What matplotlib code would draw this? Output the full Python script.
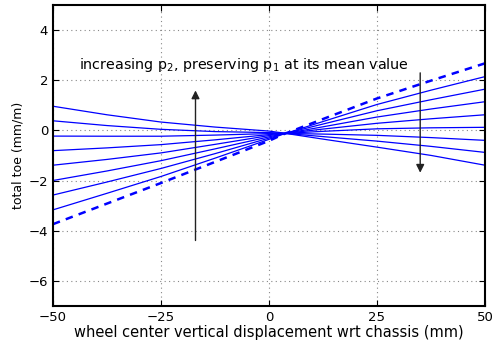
import numpy as np
import matplotlib
matplotlib.use("Agg")
import matplotlib.pyplot as plt

plt.rcParams['font.family'] = ['DejaVu Sans']
plt.rcParams['mathtext.default'] = 'regular'

# displacement samples (mm)
x = np.array([-50, -37.5, -25, -12.5, 0, 3, 12.5, 25, 37.5, 50])

# total toe (mm/m) per curve; last one is the dashed one
toe = np.array([
    [0.96, 0.62, 0.33, 0.13, -0.03, -0.10, -0.35, -0.67, -1.00, -1.39],
    [0.38, 0.19, 0.04, -0.05, -0.09, -0.11, -0.25, -0.43, -0.64, -0.88],
    [-0.23, -0.235, -0.235, -0.19, -0.13, -0.12, -0.15, -0.20, -0.29, -0.40],
    [-0.81, -0.70, -0.57, -0.38, -0.17, -0.13, -0.04, 0.06, 0.10, 0.12],
    [-1.39, -1.16, -0.90, -0.56, -0.21, -0.14, 0.05, 0.28, 0.46, 0.62],
    [-2.00, -1.62, -1.21, -0.74, -0.26, -0.15, 0.14, 0.53, 0.85, 1.14],
    [-2.58, -2.06, -1.52, -0.93, -0.31, -0.16, 0.25, 0.78, 1.22, 1.64],
    [-3.17, -2.51, -1.84, -1.11, -0.36, -0.17, 0.35, 1.03, 1.60, 2.14],
    [-3.74, -2.92, -2.10, -1.26, -0.42, -0.18, 0.45, 1.27, 1.98, 2.67],
])

xticks = [-50, -25, 0, 25, 50]
yticks = [-6, -4, -2, 0, 2, 4]

fig = plt.figure(figsize=(4.99, 3.45), dpi=100)
ax = fig.add_axes([0.106, 0.113, 0.866, 0.873])

for row in toe[:-1]:
    ax.plot(x, row, color='#0000ff', lw=0.9)
ax.plot(x, toe[-1], color='#0000ff', lw=1.8, ls=(0, (3, 2.5)))

# arrows showing the direction of increasing p2
ax.annotate('', xy=(-17, 1.7), xytext=(-17, -4.5),
            arrowprops=dict(arrowstyle='-|>', color='#222222', lw=1, mutation_scale=12))
ax.annotate('', xy=(35, -1.8), xytext=(35, 2.4),
            arrowprops=dict(arrowstyle='-|>', color='#222222', lw=1, mutation_scale=12))
ax.text(-44, 2.6, 'increasing p$_2$, preserving p$_1$ at its mean value',
        fontsize=10.3, va='center', ha='left')

ax.set_xlim(-50, 50)
ax.set_ylim(-7, 5)
ax.set_xticks(xticks)
ax.set_yticks(yticks)
ax.grid(True, color='#888888', ls=(0, (1, 3)), lw=0.8)
ax.tick_params(direction='in', top=True, right=True, length=4, labelsize=9.5)
for s in ax.spines.values():
    s.set_linewidth(1.5)

ax.set_xlabel('wheel center vertical displacement wrt chassis (mm)', fontsize=10.5, labelpad=1)
ax.set_ylabel('total toe (mm/m)', fontsize=9, labelpad=3)

fig.savefig('out.png', dpi=100)
